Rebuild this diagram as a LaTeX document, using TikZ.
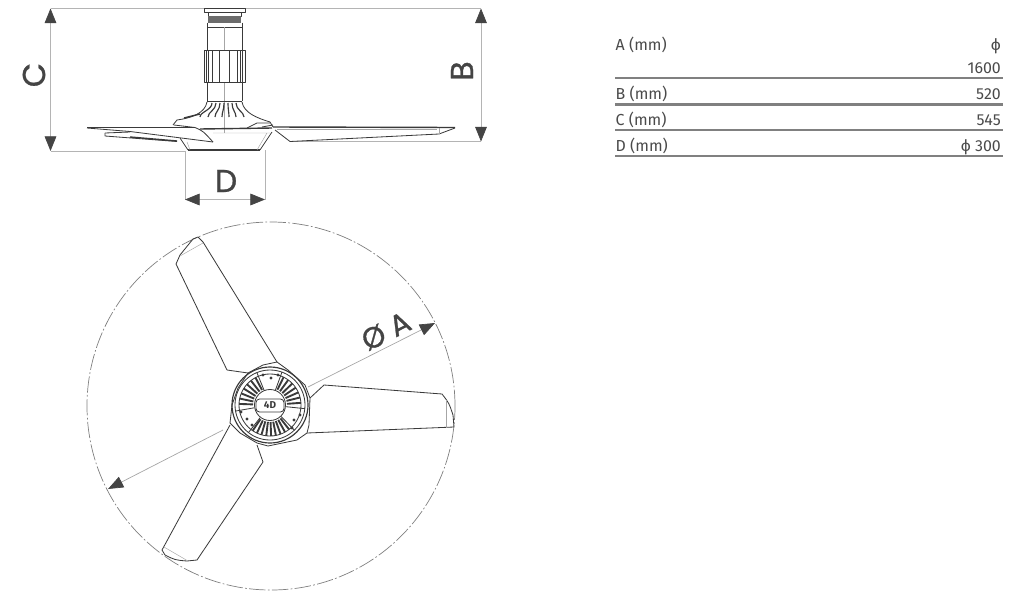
\documentclass[tikz,border=0pt]{standalone}
\usepackage{fontspec}
\setmainfont{Fira Sans}
\newfontfamily\dimfont[FakeBold=0.9]{Poppins}
\usetikzlibrary{arrows.meta, positioning, shapes.geometric, calc}

\definecolor{inkgray}{HTML}{3A3A3A}
\definecolor{dimgray}{HTML}{B4B4B4}
\definecolor{tipgray}{HTML}{444444}
\definecolor{rulegray}{HTML}{808080}
\definecolor{textgray}{HTML}{4A4A4A}

\begin{document}
\begin{tikzpicture}[x=0.03cm, y=-0.03cm,
    outline/.style={draw=inkgray, line width=0.7pt, line join=round},
    heavy/.style={draw=inkgray, line width=1.2pt},
    faint/.style={draw=gray!70, line width=0.4pt},
    dimline/.style={draw=dimgray, line width=0.6pt},
    dimarrow/.style={dimline, {Triangle[length=12.5pt, width=10pt, color=tipgray]}-{Triangle[length=12.5pt, width=10pt, color=tipgray]}},
    dimlabel/.style={font=\dimfont\fontsize{27}{27}\selectfont, text=tipgray, inner sep=0pt},
    tablerule/.style={draw=rulegray, line width=2.5pt},
    celltext/.style={font=\fontsize{13.6}{14}\selectfont, text=textgray, inner sep=0pt}
]
\useasboundingbox (0,0) rectangle (1019,615);

% Dimension lines of the side view
\coordinate (ctop) at (50.5,8.5);
\coordinate (cbot) at (50.5,151);
\coordinate (btop) at (481,8.5);
\coordinate (bbot) at (481,141.5);
\coordinate (dleft) at (185,199.5);
\coordinate (dright) at (265,199.5);
\draw[dimline] (ctop) -- (btop);
\draw[dimline] (cbot) -- (185,151);
\draw[dimline] (290,141.5) -- (bbot);
\draw[dimline] (185,151) -- (dleft);
\draw[dimline] (265,150) -- (dright);
\draw[dimarrow] (ctop) -- (cbot);
\draw[dimarrow] (btop) -- (bbot);
\draw[dimarrow] (dleft) -- (dright);
\node[dimlabel, rotate=90] (clabel) at (34,75) {C};
\node[dimlabel, rotate=90] (blabel) at (462,71) {B};
\node[dimlabel] (dlabel) at (226,181) {D};

% Column
\draw[outline] (204,8.5) rectangle (245,12);
\draw[outline] (208,12) rectangle (241,16);
\fill[gray!85!black] (208,16) rectangle (241,22.5);
\draw[outline] (207,22.5) -- (207,50) (242,22.5) -- (242,50) (207,27) -- (242,27);
\draw[faint] (224.5,27) -- (224.5,50) (224.5,82) -- (224.5,133);
\draw[outline] (204,50) rectangle (245,82);
\foreach \xk in {206,208,212,219,229,237,240,242.5}
    \draw[outline] (\xk,50) -- (\xk,82);
\draw[outline] (207,82) -- (207,101) (242,82) -- (242,101);
\draw[heavy] (207,101.5) -- (242,101.5);

% Flare and ribs
\draw[outline] (207,102) .. controls (205,113) and (192,118) .. (177,120) -- (173,125);
\draw[outline] (242,102) .. controls (244,113) and (257,118) .. (270,122) -- (273,127);
\foreach \xr/\xe in {212/200,216/208,220/215,224/222,228/229,232/236,236/244}
    \draw[outline, line width=1pt] (\xr,103) .. controls (\xr,110) and (\xe,112) .. (\xe,117);
\draw[heavy] (184,118) -- (200,114);
\draw[outline] (247,128) -- (257,123) -- (270,123) (262,127) -- (273,125);

% Lower body
\draw[outline] (180,138) -- (188,150);
\draw[outline] (272,132) -- (260,150);
\draw[heavy] (188,150) -- (260,150);
\draw[faint] (187,142) -- (190,150) (267,133) -- (257,150) (213,133) -- (270,133);
\draw[heavy] (200,129) -- (272,128);

% Left blades
\draw[heavy] (87,127.5) -- (195,127.5);
\draw[outline] (87,128) -- (130,131.5) -- (213,142);
\draw[outline] (174,125) -- (195,127.5) .. controls (203,131) .. (213,142);
\draw[outline] (105,133) -- (105,136) -- (177,141.5);
\draw[outline] (105,133) -- (130,132);
\draw[heavy] (130,137) -- (177,141);

% Right blade
\draw[heavy] (273,127) -- (455,127.5);
\draw[outline] (455,128) -- (439,134) -- (290,141.5) -- (275,130);
\draw[faint] (277,129) -- (437,129) (439,128) -- (439,134);

% Sweep circle
\node[circle, draw=gray, line width=0.6pt, minimum size=11.04cm, inner sep=0pt,
    dash pattern=on 14pt off 2pt on 1.5pt off 2pt] (sweep) at (271,406) {};

% Diameter arrow
\coordinate (atip) at (435,323);
\coordinate (astart) at (308,387);
\coordinate (btail) at (223,430);
\coordinate (btip) at (108,489);
\draw[dimline, draw=gray!70, -{Triangle[length=13pt, width=10pt, color=tipgray]}] (astart) -- (atip);
\draw[dimline, draw=gray!70, -{Triangle[length=13pt, width=10pt, color=tipgray]}] (btail) -- (btip);
\node[dimlabel, font=\dimfont\fontsize{25}{25}\selectfont, rotate=27] (alabel) at (386,331) {Ø A};

% Blades from below
\draw[outline] (227,370) -- (248,373) (227,370) -- (176,264) -- (180,255) -- (193,239) -- (198,237) -- (203,242) -- (277,362);
\draw[faint] (180,256) -- (203,243);
\draw[outline] (310,398) -- (324,385) -- (442,394) .. controls (449,403) .. (453,415) -- (454,427) -- (307,433);
\draw[faint] (446,400) -- (446,428);
\draw[outline] (230,425) -- (162,550) -- (165,555) .. controls (175,560) .. (187,561) -- (197,560) -- (263,462) -- (257,445);
\draw[faint] (164,547) -- (188,561);

% Hub
\draw[outline, fill=white] (248,373) -- (263,365) -- (277,362) -- (288,370) -- (305,385) -- (310,398) -- (309,425) -- (307,433) -- (297,440) -- (268,446) -- (257,443) -- (240,433) -- (230,423) -- (232,405) -- (238,388) -- cycle;
\draw[outline, line width=1pt] (270,405) circle (38);
\draw[outline] (270,405) circle (35);
\foreach \ang in {118,128,...,178, 4,14,...,64, 236,245,...,308}
    \draw[heavy, line width=1.6pt] ($(270,405)+(\ang:17 and -17)$) -- ($(270,405)+(\ang:31 and -31)$);
\foreach \ang in {112,70,190,232,314,-6}
    \draw[outline] ($(270,405)+(\ang:16 and -16)$) -- ($(270,405)+(\ang:35 and -35)$);
\draw[outline] (270,405) circle (31);
\draw[outline, fill=white] (270,405) circle (15.5);
\draw[outline, rounded corners=3pt] (256,399) rectangle (284,412);
\node[font=\bfseries\fontsize{8.5}{9}\selectfont, text=inkgray, inner sep=0pt] (hublabel) at (270,405.5) {4D};
\foreach \xd/\yd in {263/375,271/378,278/375,241/412,247/419,252/425,300/415,294/420,292/428}
    \fill[inkgray] (\xd,\yd) circle (1.6);

% Table
\node[celltext, anchor=base west] (rowa) at (615.5,50) {A (mm)};
\node[celltext, anchor=base east] (vala) at (1001,50) {ϕ};
\node[celltext, anchor=base east] (valaa) at (1001,73) {1600};
\draw[tablerule] (615,78) -- (1003,78);
\node[celltext, anchor=base west] (rowb) at (615.5,99) {B (mm)};
\node[celltext, anchor=base east] (valb) at (1001,99) {520};
\draw[tablerule] (615,104.5) -- (1003,104.5);
\node[celltext, anchor=base west] (rowc) at (615.5,125) {C (mm)};
\node[celltext, anchor=base east] (valc) at (1001,125) {545};
\draw[tablerule] (615,130) -- (1003,130);
\node[celltext, anchor=base west] (rowd) at (615.5,151) {D (mm)};
\node[celltext, anchor=base east] (vald) at (1001,151) {ϕ 300};
\draw[tablerule] (615,156) -- (1003,156);

\end{tikzpicture}
\end{document}
